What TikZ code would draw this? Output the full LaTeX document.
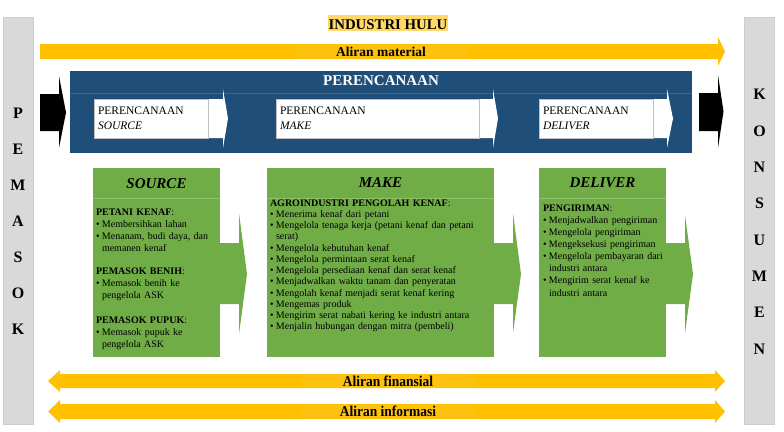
\documentclass[tikz,border=0pt]{standalone}
\usepackage{fontspec}
\setmainfont{Liberation Serif}
\usepackage{graphicx}
\setlength\parindent{0pt}
\definecolor{ayellow}{HTML}{FFC000}
\definecolor{ayellowhl}{HTML}{FDC210}
\definecolor{agreen}{HTML}{70AD47}
\definecolor{agreenline}{HTML}{8DC26A}
\definecolor{pblue}{HTML}{1F4E79}
\definecolor{pblueline}{HTML}{3C6791}
\definecolor{agray}{HTML}{D9D9D9}
\definecolor{agrayline}{HTML}{C5CED9}
\definecolor{titlehl}{HTML}{FFD966}
\newcommand\bitm[1]{\par\makebox[6pt][l]{\textbullet}#1}
\newcommand\cont[1]{\par\hspace*{6pt}#1}
\tikzset{
  every node/.style={inner sep=0pt, outer sep=0pt},
  graybar/.style={fill=agray, draw=agrayline, line width=0.8pt, minimum width=30pt, minimum height=407pt, anchor=north west},
  vletter/.style={font=\bfseries\fontsize{16}{16}\selectfont},
  flowtxt/.style={font=\bfseries\fontsize{13.5}{13.5}\selectfont},
  flowtxtc/.style={fill=ayellowhl, minimum width=173pt, minimum height=14pt},
  gbox/.style={fill=agreen, anchor=north west, minimum height=189pt},
  ghead/.style={font=\bfseries\itshape\fontsize{15}{15}\selectfont},
  wbox/.style={fill=white, draw=black!25, line width=0.6pt, anchor=north west, minimum height=39pt, inner xsep=4pt, align=left, font=\fontsize{11.5}{15.3}\selectfont},
  body/.style={anchor=north west, align=left, font=\fontsize{10}{12.3}\selectfont}
}
\begin{document}
\begin{tikzpicture}[x=1pt,y=-1pt]
\useasboundingbox (0,0) rectangle (784,431);

% side bars
\node[graybar] (pemasok) at (3,17) {};
\node[graybar] (konsumen) at (744.5,17) {};
\foreach \l [count=\i from 0] in {P,E,M,A,S,O,K}
  \node[vletter] (pl\i) at (18,{113+36.1*\i}) {\l};
\foreach \l [count=\i from 0] in {K,O,N,S,U,M,E,N}
  \node[vletter] (kl\i) at (759.5,{94.7+36.3*\i}) {\l};

% title
\node[fill=titlehl, text height=15pt, text depth=1pt, inner xsep=1pt, anchor=base, font=\bfseries\fontsize{14.8}{15}\selectfont] (title) at (388,29.7) {INDUSTRI HULU};

% material flow
\fill[ayellow] (40,44) -- (718,44) -- (718,37) -- (725,51.5) -- (718,66) -- (718,59) -- (40,59) -- cycle;
\node[flowtxt, flowtxtc] (matl) at (381,51.5) {Aliran material};

% planning box
\node[fill=pblue, anchor=north west, minimum width=622pt, minimum height=82pt] (plan) at (70,71) {};
\draw[pblueline, line width=0.7pt] (plan.north west) ++(0,22) -- ++(622,0);
\node[text=white, font=\bfseries\fontsize{15}{15}\selectfont] (plantitle) at (381,80.7) {PERENCANAAN};

% black arrows
\fill[black] (40,94) -- (59,94) -- (59,76) -- (66,112.5) -- (59,148) -- (59,131) -- (40,131) -- cycle;
\fill[black] (699,93) -- (718,93) -- (718,75) -- (723.5,111.5) -- (718,148) -- (718,131) -- (699,131) -- cycle;

% white arrows
\fill[white] (94,99) -- (223,99) -- (223,89) -- (228,118.5) -- (223,148) -- (223,138) -- (94,138) -- cycle;
\fill[white] (276,99) -- (493,99) -- (493,89) -- (498,118.5) -- (493,148) -- (493,138) -- (276,138) -- cycle;
\fill[white] (539,99) -- (667,99) -- (667,89) -- (673,118.5) -- (667,148) -- (667,138) -- (539,138) -- cycle;
\node[wbox, text width=106pt] (psrc) at (94,99) {PERENCANAAN\\\textit{SOURCE}};
\node[wbox, text width=195pt] (pmake) at (276,99) {PERENCANAAN\\\textit{MAKE}};
\node[wbox, text width=106pt] (pdel) at (539,99) {PERENCANAAN\\\textit{DELIVER}};

% green arrows
\fill[agreen] (219,243) -- (239,243) -- (239,213) -- (247,274) -- (239,334) -- (239,304) -- (219,304) -- cycle;
\fill[agreen] (493,243) -- (513,243) -- (513,213) -- (521,274) -- (513,333) -- (513,304) -- (493,304) -- cycle;
\fill[agreen] (665,243) -- (685,243) -- (685,215) -- (693,274) -- (685,333) -- (685,304) -- (665,304) -- cycle;

% green boxes
\node[gbox, minimum width=127pt] (source) at (93,168) {};
\node[gbox, minimum width=227pt] (make) at (267,168) {};
\node[gbox, minimum width=127pt] (deliver) at (539,168) {};
\draw[agreenline, line width=0.7pt] (source.north west) ++(0,30) -- ++(127,0);
\draw[agreenline, line width=0.7pt] (make.north west) ++(0,30) -- ++(227,0);
\draw[agreenline, line width=0.7pt] (deliver.north west) ++(0,30) -- ++(127,0);
\node[ghead] (sourceh) at (156.5,183.3) {SOURCE};
\node[ghead] (makeh) at (380.5,183) {MAKE};
\node[ghead] (deliverh) at (602.5,183) {DELIVER};

% body texts
\node[body, text width=125pt] (srcA) at (96,207) {\rule{0pt}{8pt}\textbf{PETANI KENAF}:\bitm{Membersihkan lahan}\bitm{Menanam, budi daya, dan}\cont{memanen kenaf}};
\node[body, text width=125pt] (srcB) at (96,266.3) {\rule{0pt}{8pt}\textbf{PEMASOK BENIH}:\bitm{Memasok benih ke}\cont{pengelola ASK}};
\node[body, text width=125pt] (srcC) at (96,315.3) {\rule{0pt}{8pt}\textbf{PEMASOK PUPUK}:\bitm{Memasok pupuk ke}\cont{pengelola ASK}};
\node[body, text width=225pt, font=\fontsize{10}{11.27}\selectfont] (makeA) at (270,198) {\rule{0pt}{8pt}\textbf{AGROINDUSTRI PENGOLAH KENAF}:\bitm{Menerima kenaf dari petani}\bitm{Mengelola tenaga kerja (petani kenaf dan petani}\cont{serat)}\bitm{Mengelola kebutuhan kenaf}\bitm{Mengelola permintaan serat kenaf}\bitm{Mengelola persediaan kenaf dan serat kenaf}\bitm{Menjadwalkan waktu tanam dan penyeratan}\bitm{Mengolah kenaf menjadi serat kenaf kering}\bitm{Mengemas produk}\bitm{Mengirim serat nabati kering ke industri antara}\bitm{Menjalin hubungan dengan mitra (pembeli)}};
\node[body, text width=130pt, font=\fontsize{10}{12.1}\selectfont] (delA) at (543,203.3) {\rule{0pt}{8pt}\textbf{PENGIRIMAN}:\bitm{Menjadwalkan pengiriman}\bitm{Mengelola pengiriman}\bitm{Mengeksekusi pengiriman}\bitm{Mengelola pembayaran dari}\cont{industri antara}\bitm{Mengirim serat kenaf ke}\cont{industri antara}};

% financial and information flows
\fill[ayellow] (48,381) -- (60,370) -- (60,374) -- (715,374) -- (715,370) -- (725,381) -- (715,392) -- (715,388) -- (60,388) -- (60,392) -- cycle;
\fill[ayellow] (48,411.5) -- (60,400) -- (60,404) -- (715,404) -- (715,400) -- (725,411.5) -- (715,423) -- (715,419) -- (60,419) -- (60,423) -- cycle;
\node[flowtxt, flowtxtc] (fin) at (388,381) {\scalebox{0.9}[1]{\fontsize{15}{15}\selectfont Aliran finansial}};
\node[flowtxt, flowtxtc] (info) at (388,411.5) {\scalebox{0.9}[1]{\fontsize{15}{15}\selectfont Aliran informasi}};
\end{tikzpicture}
\end{document}
